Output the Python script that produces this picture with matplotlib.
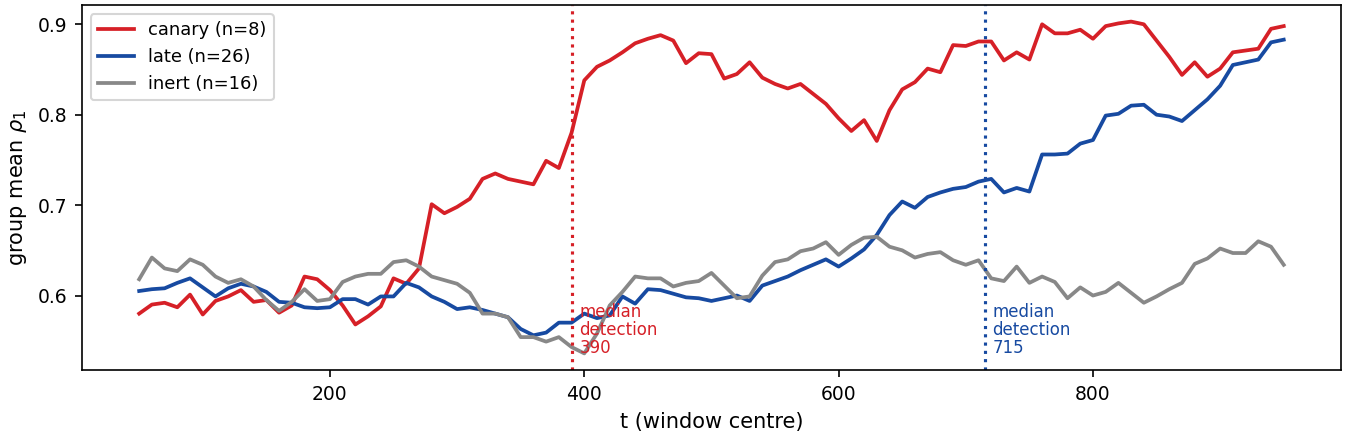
import numpy as np
import matplotlib
matplotlib.use("Agg")
from matplotlib import pyplot as plt

# window centres
t = np.arange(50, 951, 10)

canary = [0.580, 0.590, 0.592, 0.587, 0.601, 0.579, 0.594, 0.599, 0.606, 0.593,
          0.595, 0.581, 0.589, 0.621, 0.618, 0.606, 0.589, 0.568, 0.577, 0.588,
          0.619, 0.613, 0.630, 0.701, 0.691, 0.698, 0.707, 0.729, 0.735, 0.729,
          0.726, 0.723, 0.749, 0.741, 0.780, 0.838, 0.853, 0.860, 0.869, 0.879,
          0.884, 0.888, 0.882, 0.857, 0.868, 0.867, 0.840, 0.845, 0.858, 0.841,
          0.834, 0.829, 0.834, 0.823, 0.812, 0.796, 0.782, 0.794, 0.771, 0.805,
          0.828, 0.836, 0.851, 0.847, 0.877, 0.876, 0.881, 0.881, 0.860, 0.869,
          0.861, 0.900, 0.890, 0.890, 0.894, 0.884, 0.898, 0.901, 0.903, 0.900,
          0.882, 0.864, 0.844, 0.858, 0.842, 0.851, 0.869, 0.871, 0.873, 0.895,
          0.898]

late = [0.605, 0.607, 0.608, 0.614, 0.619, 0.609, 0.599, 0.608, 0.613, 0.610,
        0.604, 0.593, 0.592, 0.587, 0.586, 0.587, 0.596, 0.596, 0.590, 0.599,
        0.599, 0.614, 0.609, 0.599, 0.593, 0.585, 0.587, 0.584, 0.580, 0.576,
        0.563, 0.556, 0.559, 0.570, 0.570, 0.580, 0.575, 0.578, 0.599, 0.591,
        0.607, 0.606, 0.602, 0.598, 0.597, 0.594, 0.597, 0.600, 0.594, 0.611,
        0.616, 0.621, 0.628, 0.634, 0.640, 0.632, 0.641, 0.651, 0.667, 0.689,
        0.704, 0.697, 0.709, 0.714, 0.718, 0.720, 0.726, 0.729, 0.714, 0.719,
        0.715, 0.756, 0.756, 0.757, 0.768, 0.772, 0.799, 0.801, 0.810, 0.811,
        0.800, 0.798, 0.793, 0.805, 0.817, 0.832, 0.855, 0.858, 0.861, 0.880,
        0.883]

inert = [0.618, 0.642, 0.630, 0.627, 0.640, 0.634, 0.621, 0.614, 0.618, 0.610,
         0.595, 0.583, 0.593, 0.607, 0.594, 0.596, 0.615, 0.621, 0.624, 0.624,
         0.637, 0.639, 0.632, 0.621, 0.617, 0.613, 0.603, 0.580, 0.580, 0.576,
         0.554, 0.554, 0.549, 0.554, 0.543, 0.536, 0.558, 0.589, 0.604, 0.621,
         0.619, 0.619, 0.610, 0.614, 0.616, 0.625, 0.611, 0.597, 0.599, 0.622,
         0.637, 0.640, 0.649, 0.652, 0.659, 0.645, 0.656, 0.664, 0.665, 0.654,
         0.650, 0.642, 0.646, 0.648, 0.639, 0.634, 0.639, 0.619, 0.616, 0.632,
         0.614, 0.621, 0.615, 0.597, 0.609, 0.600, 0.604, 0.614, 0.603, 0.592,
         0.599, 0.607, 0.614, 0.635, 0.641, 0.652, 0.647, 0.647, 0.660, 0.654,
         0.634]

labels = ["canary (n=8)", "late (n=26)", "inert (n=16)"]
colors = ["#d62027", "#174aa1", "#888888"]
detect = [390, 715]  # median detection, canary / late

fig, ax = plt.subplots(figsize=(9, 2.92), dpi=150)
fig.subplots_adjust(left=0.0607, right=0.9933, top=0.9886, bottom=0.1553)

for ys, lab, c in zip([canary, late, inert], labels, colors):
    ax.plot(t, ys, color=c, lw=1.8, label=lab)

for d, c in zip(detect, colors[:2]):
    ax.axvline(d, color=c, ls=":", lw=1.5)
    ax.text(d + 6, 0.035, "median\ndetection\n%d" % d, color=c, fontsize=8,
            transform=ax.get_xaxis_transform(), va="bottom", ha="left",
            linespacing=1.0)

ax.set_xticks([200, 400, 600, 800])
ax.set_yticks([0.6, 0.7, 0.8, 0.9])
ax.tick_params(labelsize=9)
ax.set_xlabel("t (window centre)", fontsize=10)
ax.set_ylabel(r"group mean $\rho_1$", fontsize=10)
ax.legend(loc="upper left", fontsize=8.6)

fig.savefig("out.png", dpi=150)
